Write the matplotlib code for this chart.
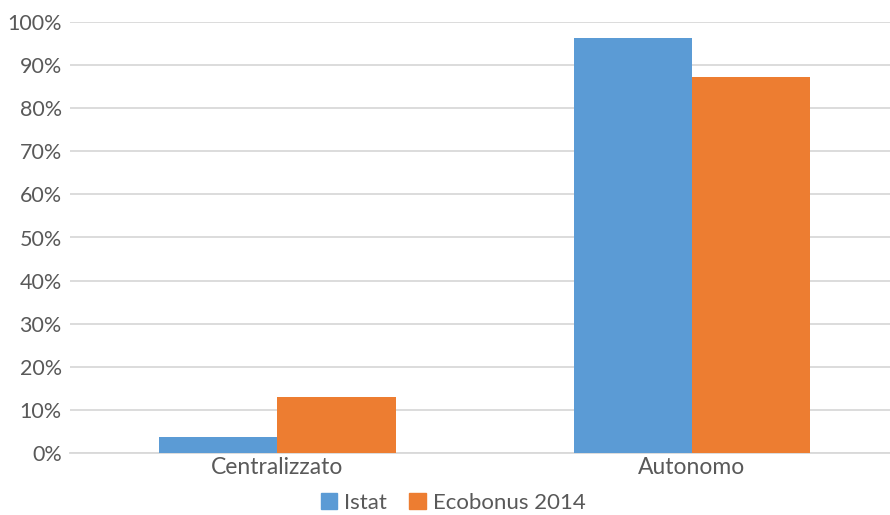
import matplotlib
matplotlib.use("Agg")
import matplotlib.pyplot as plt
import numpy as np
from matplotlib.patches import Patch

categories = ["Centralizzato", "Autonomo"]
series_names = ["Istat", "Ecobonus 2014"]
istat = [3.7, 96.4]
ecobonus = [13.1, 87.2]
yticks = [0, 10, 20, 30, 40, 50, 60, 70, 80, 90, 100]
ytick_labels = [f"{v}%" for v in yticks]

colors = ["#5b9bd5", "#ed7d31"]
txt = "#595959"
plt.rcParams['font.family'] = ['Lato', 'DejaVu Sans']

fig = plt.figure(figsize=(8.9, 5.15), dpi=100)
ax = fig.add_axes([70/890, (515-453)/515, 1 - 70/890, (453-22)/515])

x = np.arange(len(categories))
w = 0.2857
ax.bar(x - w/2, istat, w, color=colors[0], zorder=3)
ax.bar(x + w/2, ecobonus, w, color=colors[1], zorder=3)

ax.set_xlim(-0.5, 1.4775)
ax.set_ylim(0, 100)
ax.set_yticks(yticks)
ax.set_yticklabels(ytick_labels)
ax.set_xticks(x)
ax.set_xticklabels(categories)
ax.yaxis.grid(True, color="#d9d9d9", linewidth=1.3, zorder=0)
for s in ["top", "right", "left"]:
    ax.spines[s].set_visible(False)
ax.spines["bottom"].set_color("#d9d9d9")
ax.spines["bottom"].set_linewidth(1.3)
ax.tick_params(axis="y", length=0, labelsize=15.5, colors=txt, pad=6)
ax.tick_params(axis="x", length=0, labelsize=16.5, colors=txt, pad=3)

handles = [Patch(color=colors[0]), Patch(color=colors[1])]
fig.legend(handles, series_names, loc="center", bbox_to_anchor=(453/890, 1 - 503/515),
           ncol=2, frameon=False, fontsize=16, labelcolor=txt,
           handlelength=0.75, handleheight=0.75, handletextpad=0.3, columnspacing=1.0)

fig.savefig("out.png", dpi=100)
